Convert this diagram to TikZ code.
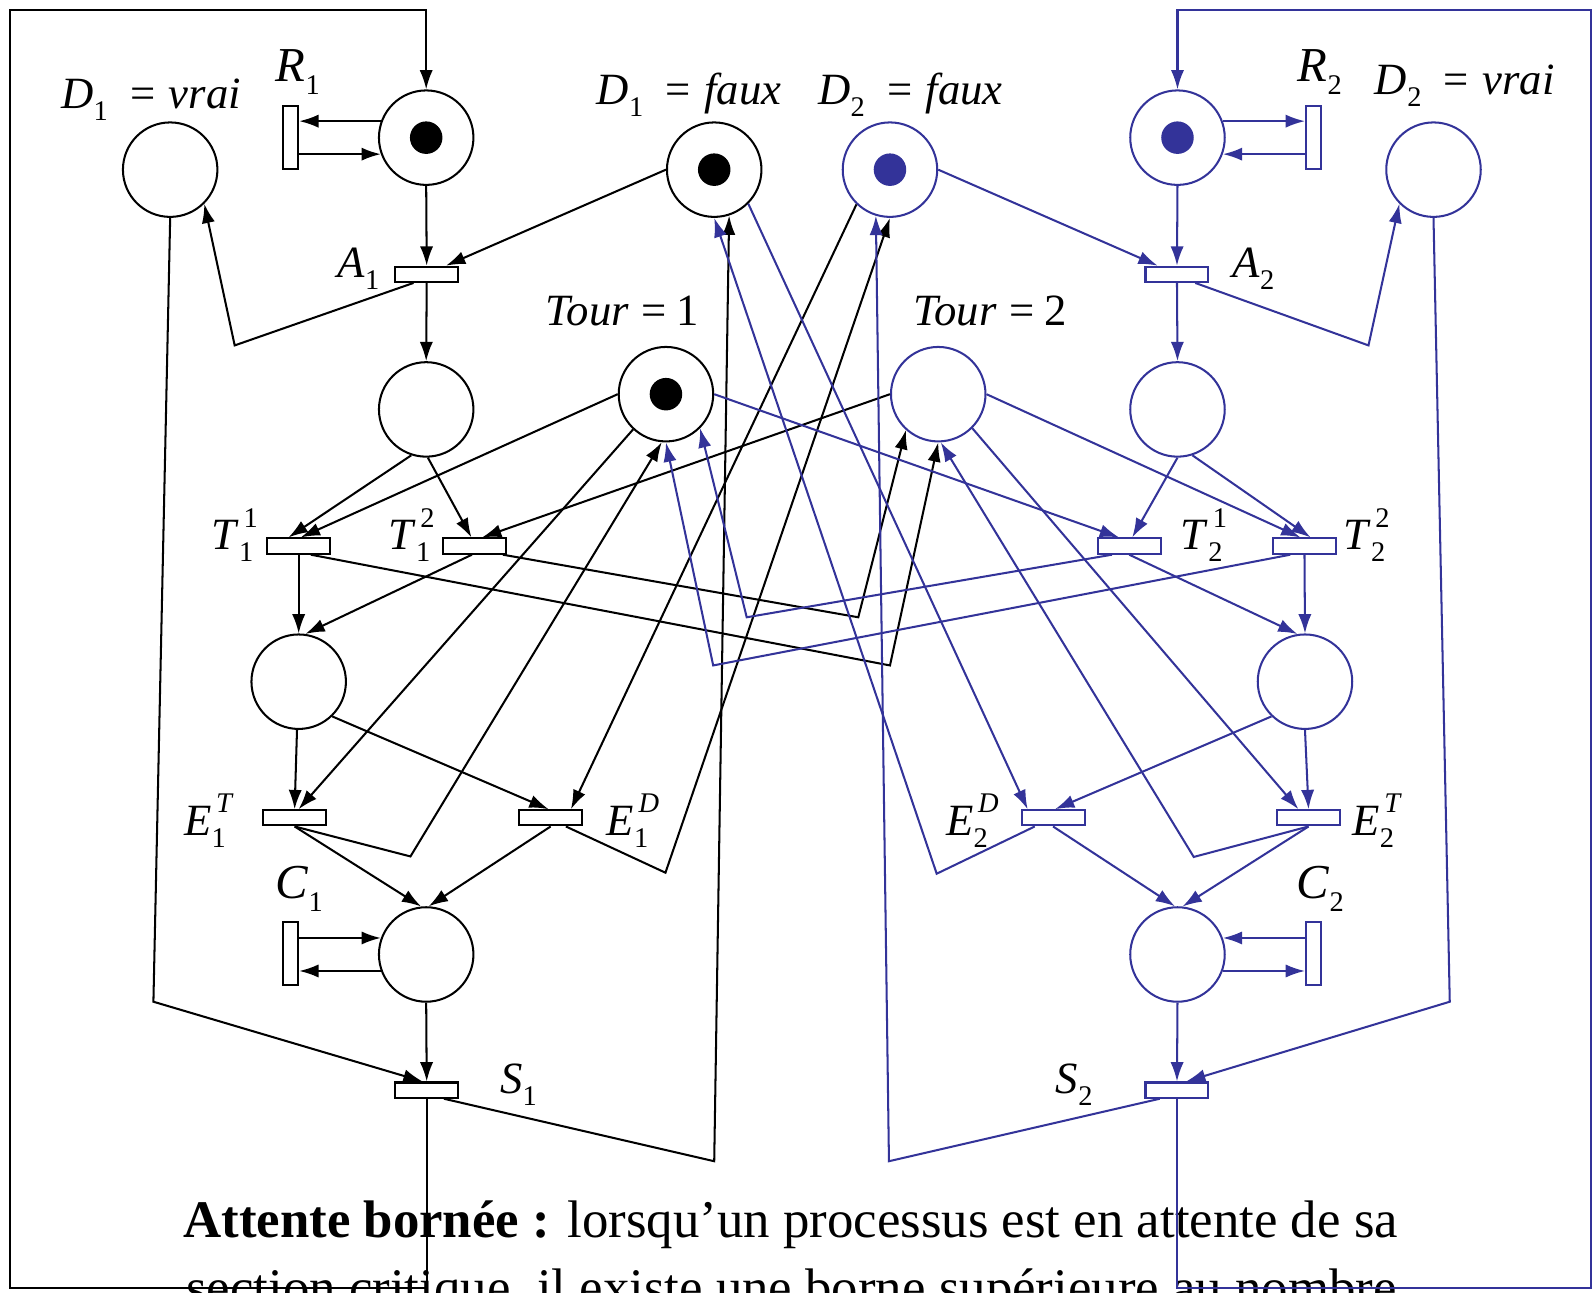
\documentclass[tikz,border=0pt]{standalone}
\usepackage{fontspec}
\setmainfont{Liberation Serif}
\usetikzlibrary{arrows.meta}
\definecolor{procb}{RGB}{51,51,153}
\newcommand{\scr}[1]{{\fontsize{14}{14}\selectfont #1}}
\newcommand{\lb}[2]{\textit{#1}\raisebox{-0.27em}{\scr{#2}}}
\newcommand{\lbs}[3]{\textit{#1}\rlap{\hspace{0.1em}\raisebox{0.5em}{\scr{#3}}}\raisebox{-0.27em}{\scr{#2}}}
\newcommand{\eq}{\hspace{0.28em}=\hspace{0.22em}}
\newcommand{\eqd}{\hspace{0.5em}=\hspace{0.3em}}
\begin{document}
\begin{tikzpicture}[x=0.5pt,y=-0.5pt,
    place/.style={circle,draw,fill=white,line width=1pt,minimum size=46.5pt,inner sep=0pt},
    trans/.style={rectangle,draw,fill=white,line width=1pt,minimum width=31pt,minimum height=7.5pt,inner sep=0pt},
    sidebar/.style={rectangle,draw,fill=white,line width=1pt,minimum width=7.5pt,minimum height=31pt,inner sep=0pt},
    arc/.style={line width=1pt,-{Latex[length=9.5pt,width=6.5pt]}},
    lbl/.style={font=\fontsize{22}{24}\selectfont,inner sep=0pt,anchor=base west},
    txt/.style={font=\fontsize{26}{30}\selectfont,inner sep=0pt,anchor=base west}]
    \useasboundingbox (0,0) rectangle (1568,1272);

    % texte du bas
    \node[txt] (l1) at (180,1218) {\textbf{Attente bornée :} lorsqu’un processus est en attente de sa};
    \node[txt] (l2) at (183,1285) {section critique, il existe une borne supérieure au nombre};

    % processus 1
    \node[place] (D1v) at (167.5,167) {};
    \node[place] (R1) at (419.5,135.5) {};
    \node[place] (D1f) at (703,167) {};
    \node[place] (Tour1) at (655.5,388) {};
    \node[place] (P1) at (419.5,403) {};
    \node[place] (W1) at (294,671) {};
    \node[place] (C1) at (419.5,939.5) {};
    \node[trans] (A1) at (420,270) {};
    \node[trans] (T11) at (294,537.5) {};
    \node[trans] (T12) at (467,537.5) {};
    \node[trans] (E1T) at (290,805) {};
    \node[trans] (E1D) at (542,805) {};
    \node[trans] (S1) at (420,1073) {};
    \node[sidebar] (R1b) at (286,135.5) {};
    \node[sidebar] (C1b) at (286,938.5) {};
    \foreach \p in {R1,D1f,Tour1}
        \fill (\p) circle (8pt);

    % processus 2
    \begin{scope}[procb]
        \node[place] (D2f) at (876,167) {};
        \node[place] (R2) at (1159,135.5) {};
        \node[place] (D2v) at (1411,167) {};
        \node[place] (Tour2) at (923.5,388) {};
        \node[place] (P2) at (1159,403) {};
        \node[place] (W2) at (1284.5,671) {};
        \node[place] (C2) at (1159,939.5) {};
        \node[trans] (A2) at (1158.5,270) {};
        \node[trans] (T21) at (1111.5,537.5) {};
        \node[trans] (T22) at (1284,537.5) {};
        \node[trans] (E2D) at (1036.5,805) {};
        \node[trans] (E2T) at (1288,805) {};
        \node[trans] (S2) at (1158.5,1073) {};
        \node[sidebar] (R2b) at (1293,135.5) {};
        \node[sidebar] (C2b) at (1293,938.5) {};
        \foreach \p in {R2,D2f}
            \fill (\p) circle (8pt);
    \end{scope}

    \coordinate (tl) at (10,10);
    \coordinate (bl) at (10,1268);
    \coordinate (tr) at (1566,10);
    \coordinate (br) at (1566,1268);

    % arcs du processus 1
    \draw[arc] (S1.south) |- (bl) -- (tl) -| (R1.north);
    \draw[arc] (R1.south) -- (A1.north);
    \draw[arc] (D1f.180) -- ([xshift=9.5pt]A1.north);
    \draw[arc] ([xshift=-6.5pt]A1.south) -- (231,340) -- (D1v.315);
    \draw[arc] (A1.south) -- (P1.north);
    \draw[arc] (P1.252) -- ([xshift=-5pt]T11.north);
    \draw[arc] (P1.272) -- ([xshift=-1.5pt]T12.north);
    \draw[arc] (Tour1.180) -- ([xshift=1pt]T11.north);
    \draw[arc] (Tour2.180) -- ([xshift=3.75pt]T12.north);
    \draw[arc] (T11.south) -- (W1.north);
    \draw[arc] ([xshift=-1.25pt]T12.south) -- (W1.82);
    \draw[arc] ([xshift=6pt]T11.south) -- (876,655) -- (Tour2.270);
    \draw[arc] ([xshift=-2pt]T12.south east) -- (844.8,607.6) -- (Tour2.228);
    \draw[arc] (Tour1.227) -- ([xshift=2pt]E1T.north);
    \draw[arc] (E1T.south) -- (404,843) -- (Tour1.265);
    \draw[arc] (W1.268) -- (E1T.north);
    \draw[arc] (W1.314) -- ([xshift=-1pt]E1D.north);
    \draw[arc] (D2f.226) -- ([xshift=10pt]E1D.north);
    \draw[arc] ([xshift=7.5pt]E1D.south) -- (655,859) -- (D2f.270);
    \draw[arc] (E1T.south) -- (C1.96);
    \draw[arc] (E1D.south) -- (C1.87);
    \draw[arc] (C1.south) -- (S1.north);
    \draw[arc] (D1v.south) -- (151,986) -- ([xshift=-2pt]S1.north);
    \draw[arc] ([xshift=8.5pt]S1.south) -- (703,1143) -- (D1f.288);
    \draw[arc] (R1.160) -- (R1.160 -| R1b.east);
    \draw[arc] (R1.200 -| R1b.east) -- (R1.200);
    \draw[arc] (C1.160 -| C1b.east) -- (C1.160);
    \draw[arc] (C1.200) -- (C1.200 -| C1b.east);

    % arcs du processus 2
    \begin{scope}[procb]
        \draw[arc] (S2.south) |- (br) -- (tr) -| (R2.north);
        \draw[arc] (R2.south) -- (A2.north);
        \draw[arc] (D2f.0) -- ([xshift=-9.5pt]A2.north);
        \draw[arc] ([xshift=9pt]A2.south) -- (1347,340) -- (D2v.225);
        \draw[arc] (A2.south) -- (P2.north);
        \draw[arc] (P2.270) -- ([xshift=1.5pt]T21.north);
        \draw[arc] (P2.288) -- ([xshift=3pt]T22.north);
        \draw[arc] (Tour1.0) -- ([xshift=-5pt]T21.north);
        \draw[arc] (Tour2.0) -- ([xshift=-2pt]T22.north);
        \draw[arc] (T22.south) -- (W2.north);
        \draw[arc] (T21.south) -- (W2.99);
        \draw[arc] ([xshift=-8.5pt]T21.south) -- (735,607.6) -- (Tour1.315);
        \draw[arc] ([xshift=-7pt]T22.south) -- (702,655) -- (Tour1.270);
        \draw[arc] (Tour2.315) -- ([xshift=-5pt]E2T.north);
        \draw[arc] (E2T.south) -- (1175,843.5) -- (Tour2.273);
        \draw[arc] (W2.270) -- (E2T.north);
        \draw[arc] (W2.226) -- ([xshift=1pt]E2D.north);
        \draw[arc] (D1f.315) -- ([xshift=-12.5pt]E2D.north);
        \draw[arc] ([xshift=-9pt]E2D.south) -- (922,860) -- (D1f.270);
        \draw[arc] (E2D.south) -- (C2.93);
        \draw[arc] (E2T.south) -- (C2.84);
        \draw[arc] (C2.south) -- (S2.north);
        \draw[arc] (D2v.south) -- (1427,986) -- ([xshift=4.5pt]S2.north);
        \draw[arc] ([xshift=-8.5pt]S2.south) -- (875,1143) -- (D2f.253);
        \draw[arc] (R2.20) -- (R2.20 -| R2b.west);
        \draw[arc] (R2.340 -| R2b.west) -- (R2.340);
        \draw[arc] (C2.20 -| C2b.west) -- (C2.20);
        \draw[arc] (C2.340) -- (C2.340 -| C2b.west);
    \end{scope}

    % etiquettes
    \node[lbl] (lD1v) at (60,107) {\lb{D}{1}\eqd\textit{vrai}};
    \node[lbl,font=\fontsize{24}{26}\selectfont] (lR1) at (271,80) {\lb{R}{1}};
    \node[lbl] (lD1f) at (587,103) {\lb{D}{1}\eqd\textit{faux}};
    \node[lbl] (lD2f) at (805,103) {\lb{D}{2}\eqd\textit{faux}};
    \node[lbl,font=\fontsize{24}{26}\selectfont] (lR2) at (1277,80) {\lb{R}{2}};
    \node[lbl] (lD2v) at (1353,93) {\lb{D}{2}\eqd\textit{vrai}};
    \node[lbl] (lA1) at (332,273) {\lb{A}{1}};
    \node[lbl] (lA2) at (1213,273) {\lb{A}{2}};
    \node[lbl] (lTour1) at (537,320) {\textit{Tour}\eq1};
    \node[lbl] (lTour2) at (899,320) {\textit{Tour}\eq2};
    \node[lbl] (lT11) at (208,541) {\lbs{T}{1}{1}};
    \node[lbl] (lT12) at (382,541) {\lbs{T}{1}{2}};
    \node[lbl] (lT21) at (1162,541) {\lbs{T}{2}{1}};
    \node[lbl] (lT22) at (1322,541) {\lbs{T}{2}{2}};
    \node[lbl] (lE1T) at (181,822) {\lbs{E}{1}{\textit{T}}};
    \node[lbl] (lE1D) at (597,822) {\lbs{E}{1}{\textit{D}}};
    \node[lbl] (lE2D) at (931,822) {\lbs{E}{2}{\textit{D}}};
    \node[lbl] (lE2T) at (1331,822) {\lbs{E}{2}{\textit{T}}};
    \node[lbl,font=\fontsize{24}{26}\selectfont] (lC1) at (271,884) {\lb{C}{1}};
    \node[lbl,font=\fontsize{24}{26}\selectfont] (lC2) at (1276,884) {\lb{C}{2}};
    \node[lbl] (lS1) at (492,1076) {\lb{S}{1}};
    \node[lbl] (lS2) at (1039,1076) {\lb{S}{2}};
\end{tikzpicture}
\end{document}
